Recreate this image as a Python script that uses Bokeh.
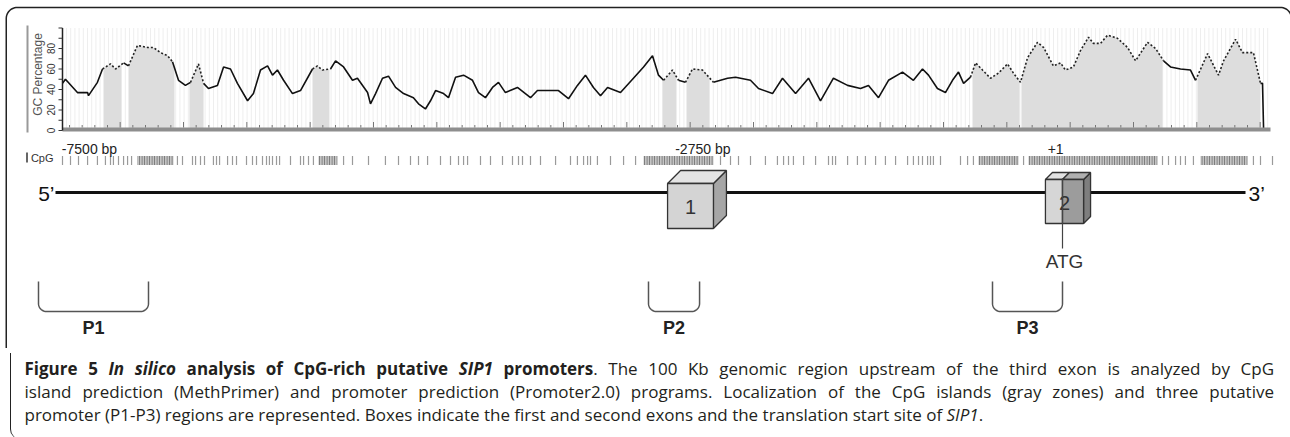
import numpy as np
from bokeh.plotting import figure
from bokeh.models import Range1d, Div
from bokeh.layouts import column
from bokeh.core.properties import value
from bokeh.embed import file_html
from bokeh.resources import INLINE

# ---------------- data (positions in bp relative to ATG = +1) ----------------
gc_bp = [-7500, -7478, -7388, -7312, -7305, -7238, -7200, -7140, -7102, -7042,
         -7005, -6938, -6862, -6818, -6765, -6712, -6675, -6630, -6578, -6540,
         -6480, -6442, -6405, -6338, -6292, -6240, -6188, -6112, -6068, -6015,
         -5962, -5925, -5888, -5842, -5775, -5715, -5625, -5588, -5550, -5490,
         -5452, -5392, -5325, -5288, -5212, -5190, -5152, -5100, -5055, -5002,
         -4942, -4868, -4830, -4778, -4740,
         -4702, -4642, -4605, -4552, -4492, -4425, -4380, -4328, -4275, -4230,
         -4178, -4088, -3990, -3938, -3840, -3780, -3705, -3638, -3578, -3518,
         -3465, -3412, -3315, -3218, -3142, -3075, -3030, -2992, -2925, -2880,
         -2828, -2775, -2700, -2618, -2512, -2452, -2340, -2280, -2175, -2100,
         -2002, -1905, -1815, -1718, -1612, -1515,
         -1455, -1380, -1305, -1200, -1118, -1050, -1005, -938, -878, -825,
         -780, -742, -690, -652, -600, -540, -480, -412, -368, -315,
         -262, -188, -142, -68, -15, 22, 82, 135, 195, 232,
         285, 338, 412, 488, 548, 638, 698, 758, 810, 885, 960,
         998, 1088, 1170, 1208, 1298, 1350, 1432, 1485, 1500, 1508]
gc_pct = [46, 50, 37, 37, 34, 47, 60, 65, 60, 66,
          63, 83, 81, 81, 76, 73, 67, 49, 44, 47,
          65, 46, 41, 44, 62, 60, 46, 29, 36, 59,
          63, 54, 59, 49, 36, 39, 60, 63, 59, 60,
          68, 62, 49, 51, 37, 26, 36, 51, 53, 42,
          36, 32, 26, 21, 29,
          39, 36, 32, 52, 54, 49, 37, 32, 42, 47,
          37, 42, 32, 39, 39, 39, 31, 44, 54, 42,
          34, 42, 37, 51, 62, 73, 54, 49, 59, 49,
          47, 60, 59, 47, 51, 52, 49, 41, 36, 51,
          36, 51, 29, 51, 44, 41,
          44, 32, 49, 57, 49, 60, 54, 41, 37, 49,
          57, 46, 52, 66, 59, 51, 56, 65, 56, 47,
          71, 86, 81, 63, 66, 59, 62, 78, 91, 85,
          85, 93, 90, 81, 68, 86, 80, 68, 62, 60, 59,
          49, 75, 54, 68, 89, 76, 76, 46, 46, 2]

island_start = [-7192, -7005, -6548, -5625, -3000, -2820, -675, -308, 1012]
island_end = [-7058, -6660, -6442, -5498, -2895, -2648, -322, 750, 1485]

cpg_sites = [-7500, -7440, -7380, -7312, -7238, -7178, -7140, -7118, -7080, -7042,
             -7012, -6982, -6638, -6600, -6525, -6502, -6465, -6435, -6368, -6345,
             -6322, -6262, -6225, -6195, -6120, -6075, -6045, -6000, -5970, -5948,
             -5925, -5895, -5872, -5790, -5715, -5692, -5655, -5618, -5392, -5325,
             -5205, -5078, -4980, -4890, -4830, -4762, -4665, -4590, -4530, -4492,
             -4462, -4365, -4290, -4200, -4125, -4080, -4050, -3990, -3915, -3802,
             -3690, -3638, -3592, -3562, -3540, -3488, -3390, -3292, -3202, -2565,
             -2490, -2430, -2340, -2228, -2138, -2092, -2055, -2018, -1942, -1852,
             -1755, -1725, -1702, -1612, -1538, -1478, -1402, -1328, -1252, -1162,
             -1118, -1080, -1050, -1012, -990, -968, -915, -765, -712, -668,
             -292, 750, 795, 848, 885, 922, 982, 1432, 1485, 1575]
cpg_dense_start = [-6938, -5580, -3142, -630, -255, 1035]
cpg_dense_end = [-6668, -5438, -2618, -330, 712, 1388]

exon_start = [-2962, -128]
exon_end = [-2618, 158]
exon_labels = ["1", "2"]
atg_bp = 0

promoter_start = [-7680, -3105, -525]
promoter_end = [-6855, -2722, 0]
promoter_labels = ["P1", "P2", "P3"]

marker_bp = [-7500, -2750, 1]
marker_labels = ["-7500 bp", "-2750 bp", "+1"]

gc_ticks = [0, 20, 40, 60, 80]

# ---------------- layout helpers ----------------
BP_PX = 7.5                      # bp per screen pixel


def X(px):
    """page pixel column -> bp coordinate"""
    return (np.asarray(px, dtype=float) - 1062) * BP_PX


W, H = 1290, 348
FONT = "Liberation Sans"
p = figure(width=W, height=H, x_range=Range1d(float(X(0)), float(X(W))),
           y_range=Range1d(H, 0), output_backend="svg",
           toolbar_location=None, min_border=0)
p.xaxis.visible = False
p.yaxis.visible = False
p.xgrid.visible = False
p.ygrid.visible = False
p.outline_line_color = None
p.background_fill_color = "white"
p.border_fill_color = "white"
p.extra_y_ranges = {"gc": Range1d((130 - H) / 1.025, 130 / 1.025)}

# outer rounded frame (top part)
r = 11
L, T, R = 5.75, 7.0, 1291.0
t = np.linspace(0, np.pi / 2, 14)
fx = [L] + list(L + r - r * np.cos(t)) + list(R - r + r * np.sin(t))
fy = [H] + list(T + r - r * np.sin(t)) + list(T + r - r * np.cos(t))
p.line(X(fx), fy, line_color="#222222", line_width=1.5)

# ---------------- GC percentage panel ----------------
gx = np.array(gc_bp, dtype=float)
gy = np.array(gc_pct, dtype=float)
x_lo, x_hi = float(X(62)), float(X(1270))

# faint vertical stripes
stripes = np.arange(x_lo + 30, x_hi, 31.5)
p.segment(x0=stripes, y0=0, x1=stripes, y1=100, y_range_name="gc",
          line_color="#eeeeee", line_width=1)

# CpG islands (gray zones under the curve)
pxs, pys = [], []
for s, e in zip(island_start, island_end):
    m = (gx > s) & (gx < e)
    xs = [s] + list(gx[m]) + [e]
    ys = [float(np.interp(s, gx, gy))] + list(gy[m]) + [float(np.interp(e, gx, gy))]
    pxs.append(xs + [e, s])
    pys.append(ys + [0, 0])
p.patches(pxs, pys, y_range_name="gc", fill_color="#dddddd", line_color=None)

# GC curve: solid outside islands, dotted inside
mids = (gx[:-1] + gx[1:]) / 2
ins = np.zeros(len(mids), dtype=bool)
for s, e in zip(island_start, island_end):
    ins |= (mids >= s) & (mids <= e)
sol_x, sol_y, dot_x, dot_y = [], [], [], []
i = 0
while i < len(mids):
    j = i
    while j + 1 < len(mids) and ins[j + 1] == ins[i]:
        j += 1
    if ins[i]:
        dot_x.append(list(gx[i:j + 2])); dot_y.append(list(gy[i:j + 2]))
    else:
        sol_x.append(list(gx[i:j + 2])); sol_y.append(list(gy[i:j + 2]))
    i = j + 1
p.multi_line(sol_x, sol_y, y_range_name="gc", line_color="#111111", line_width=1.6)
p.multi_line(dot_x, dot_y, y_range_name="gc", line_color="#222222", line_width=1.6,
             line_dash="2 2")

# bottom axis bar + ticks
p.segment(x0=[x_lo], y0=[129], x1=[x_hi], y1=[129], line_color="#8e8e8e", line_width=4)
minor = np.arange(float(X(69)), x_hi, 95.0)
tick_top = np.where(np.arange(len(minor)) % 5 == 4, 121.5, 124.5)
p.segment(x0=minor, y0=127, x1=minor, y1=tick_top, line_color="#777777", line_width=1)

# left axis
p.segment(x0=[x_lo], y0=[0], x1=[x_lo], y1=[100], y_range_name="gc",
          line_color="#222222", line_width=1.5)
yt = np.arange(0, 101, 10)
p.segment(x0=x_lo, y0=yt, x1=x_lo - 4 * BP_PX, y1=yt, y_range_name="gc",
          line_color="#333333", line_width=1)
p.text(x=[float(X(50))] * len(gc_ticks), y=gc_ticks, text=[str(v) for v in gc_ticks],
       y_range_name="gc", angle=np.pi / 2, text_align="center", text_baseline="middle",
       text_font=value(FONT), text_font_size="10px", text_color="#333333")
p.text(x=[float(X(37))], y=[74], text=["GC Percentage"], angle=np.pi / 2,
       text_align="center", text_baseline="middle", text_font=value(FONT),
       text_font_size="12px", text_color="#555555")
p.segment(x0=[float(X(27))], y0=[25], x1=[float(X(27))], y1=[132],
          line_color="#999999", line_width=2)

# ---------------- CpG sites row ----------------
p.segment(x0=[float(X(26.5))], y0=[152], x1=[float(X(26.5))], y1=[162],
          line_color="#333333", line_width=1.5)
p.text(x=[float(X(53))], y=[157], text=["CpG"], text_align="right", text_baseline="middle",
       text_font=value(FONT), text_font_size="11px", text_color="#333333")
p.segment(x0=cpg_sites, y0=155.5, x1=cpg_sites, y1=164.5, line_color="#9a9a9a",
          line_width=1.2)
p.quad(left=cpg_dense_start, right=cpg_dense_end, top=155.5, bottom=164.5,
       fill_color="#c4c4c4", line_color=None, hatch_pattern="|", hatch_scale=2.5,
       hatch_color="#6e6e6e", hatch_weight=1)

# position markers
p.text(x=marker_bp, y=[148] * 3, text=marker_labels, x_offset=[27, 7, -7],
       text_align="center", text_baseline="middle", text_font=value(FONT),
       text_font_size="14px", text_color="#222222")

# ---------------- gene diagram ----------------
p.segment(x0=[float(X(55))], y0=[192], x1=[float(X(1245))], y1=[192],
          line_color="#111111", line_width=3)
p.text(x=[float(X(54))], y=[193], text=["5\u2019"], text_align="right",
       text_baseline="middle", text_font=value(FONT), text_font_size="21px",
       text_color="#111111")
p.text(x=[float(X(1248))], y=[193], text=["3\u2019"], text_align="left",
       text_baseline="middle", text_font=value(FONT), text_font_size="21px",
       text_color="#111111")

cube_top = [183, 179]
cube_bot = [228, 223]
depth = [13, 7]
for k, (s, e) in enumerate(zip(exon_start, exon_end)):
    tp, bt, d = cube_top[k], cube_bot[k], depth[k]
    db = d * BP_PX
    edge = dict(line_color="#333333", line_width=1.3)
    # right face
    p.patch([e, e + db, e + db, e], [tp, tp - d, bt - d, bt],
            fill_color="#a6a6a6" if k == 0 else "#7e7e7e", **edge)
    if k == 0:
        p.patch([s, s + db, e + db, e], [tp, tp - d, tp - d, tp], fill_color="#e4e4e4", **edge)
        p.quad(left=[s], right=[e], top=[tp], bottom=[bt], fill_color="#d4d4d4", **edge)
    else:
        a = atg_bp
        p.patch([s, s + db, a + db, a], [tp, tp - d, tp - d, tp], fill_color="#e2e2e2", **edge)
        p.patch([a, a + db, e + db, e], [tp, tp - d, tp - d, tp], fill_color="#b0b0b0", **edge)
        p.quad(left=[s], right=[a], top=[tp], bottom=[bt], fill_color="#d6d6d6", **edge)
        p.quad(left=[a], right=[e], top=[tp], bottom=[bt], fill_color="#9c9c9c", **edge)
    p.text(x=[(s + e) / 2], y=[(tp + bt) / 2 + 1], text=[exon_labels[k]],
           text_align="center", text_baseline="middle", text_font=value(FONT),
           text_font_size="20px", text_color="#333333")

# translation start
p.segment(x0=[atg_bp], y0=[178], x1=[atg_bp], y1=[248], line_color="#444444",
          line_width=1.2)
p.text(x=[atg_bp], y=[261], text=["ATG"], x_offset=2, text_align="center",
       text_baseline="middle", text_font=value(FONT), text_font_size="19px",
       text_color="#333333")

# promoter brackets
rp = 8.0
yb, ytop = 311.0, 281.0
ph = np.linspace(0, np.pi / 2, 12)
bxs, bys = [], []
for s, e in zip(promoter_start, promoter_end):
    R_bp = rp * BP_PX
    xs = [s] + list(s + R_bp - R_bp * np.cos(ph)) + list(e - R_bp + R_bp * np.sin(ph)) + [e]
    ys = [ytop] + list(yb - rp + rp * np.sin(ph)) + list(yb - rp + rp * np.cos(ph)) + [ytop]
    bxs.append(xs); bys.append(ys)
p.multi_line(bxs, bys, line_color="#555555", line_width=1.5)
p.text(x=[(s + e) / 2 for s, e in zip(promoter_start, promoter_end)], y=[327] * 3,
       text=promoter_labels, text_align="center", text_baseline="middle",
       text_font=value(FONT), text_font_size="18px", text_font_style="bold",
       text_color="#222222")

# ---------------- caption ----------------
line1 = ("<b>Figure 5 <i>In silico</i> analysis of CpG-rich putative <i>SIP1</i> promoters</b>. "
         "The 100 Kb genomic region upstream of the third exon is analyzed by CpG")
line2 = ("island prediction (MethPrimer) and promoter prediction (Promoter2.0) programs. "
         "Localization of the CpG islands (gray zones) and three putative")
line3 = ("promoter (P1-P3) regions are represented. Boxes indicate the first and second "
         "exons and the translation start site of <i>SIP1</i>.")
jl = "text-align:justify;text-align-last:justify;white-space:nowrap;"
CH = 437 - H
html = ('<div style="box-sizing:border-box;margin-left:5px;width:1285px;height:86px;'
        'border-left:1.5px solid #222222;border-bottom-left-radius:10px;'
        'font-family:\'Open Sans\',sans-serif;font-size:17px;line-height:23.2px;'
        'color:#231f20;padding:3.5px 21px 0 13.5px;">'
        f'<div style="{jl}">{line1}</div>'
        f'<div style="{jl}">{line2}</div>'
        f'<div style="white-space:nowrap;">{line3}</div></div>')
cap = Div(text=html, width=W, height=CH)

layout = column(p, cap, spacing=0)
open("out.html", "w").write(file_html(layout, INLINE))
